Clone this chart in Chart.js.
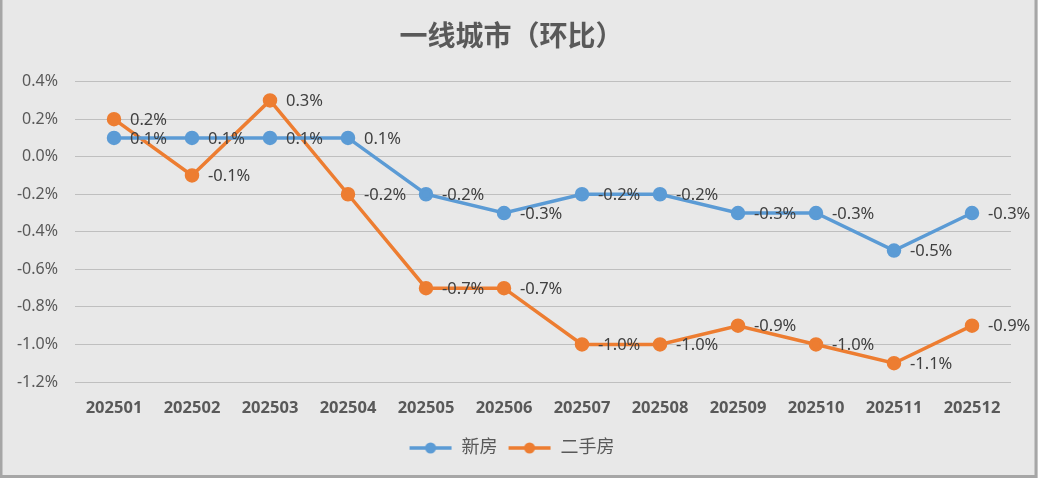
<!DOCTYPE html>
<html lang="zh">
<head>
<meta charset="UTF-8">
<title>一线城市（环比）</title>
<script src="https://cdn.jsdelivr.net/npm/chart.js"></script>
<style>
    html, body { margin: 0; padding: 0; background: #e8e8e8; }
    #wrap { width: 1038px; height: 478px; }
</style>
</head>
<body>
<div id="wrap"><canvas id="chart" width="1038" height="478"></canvas></div>
<script>
    var months = ["202501", "202502", "202503", "202504", "202505", "202506",
                  "202507", "202508", "202509", "202510", "202511", "202512"];
    var newHomes = [0.1, 0.1, 0.1, 0.1, -0.2, -0.3, -0.2, -0.2, -0.3, -0.3, -0.5, -0.3];
    var resale = [0.2, -0.1, 0.3, -0.2, -0.7, -0.7, -1.0, -1.0, -0.9, -1.0, -1.1, -0.9];
    var seriesNames = ["新房", "二手房"];
    var colors = ["#5b9bd5", "#ed7d31"];

    var FONT = "'Noto Sans', 'Noto Sans CJK SC', sans-serif";

    // little legend marker: line with a dot in the middle
    function marker(color) {
        var c = document.createElement("canvas");
        c.width = 44; c.height = 14;
        var g = c.getContext("2d");
        g.strokeStyle = color;
        g.lineWidth = 3.5;
        g.beginPath(); g.moveTo(1, 7); g.lineTo(43, 7); g.stroke();
        g.fillStyle = color;
        g.beginPath(); g.arc(22, 7, 5.5, 0, Math.PI * 2); g.fill();
        return c;
    }
    var markers = [marker(colors[0]), marker(colors[1])];

    var frame = {
        id: "frame",
        beforeDraw: function(chart) {
            var ctx = chart.ctx;
            ctx.save();
            ctx.fillStyle = "#e8e8e8";
            ctx.fillRect(0, 0, chart.width, chart.height);
            ctx.restore();
        },
        afterDraw: function(chart) {
            var ctx = chart.ctx;
            ctx.save();
            ctx.strokeStyle = "#a6a6a6";
            ctx.lineWidth = 3;
            ctx.beginPath();
            ctx.moveTo(1, 0);
            ctx.lineTo(1, chart.height - 1.5);
            ctx.lineTo(chart.width - 2, chart.height - 1.5);
            ctx.lineTo(chart.width - 2, 0);
            ctx.stroke();
            ctx.restore();
        }
    };

    var pointLabels = {
        id: "pointLabels",
        afterDatasetsDraw: function(chart) {
            var ctx = chart.ctx;
            ctx.save();
            ctx.font = "16.5px " + FONT;
            ctx.fillStyle = "#404040";
            ctx.textAlign = "left";
            ctx.textBaseline = "middle";
            chart.data.datasets.forEach(function(ds, i) {
                chart.getDatasetMeta(i).data.forEach(function(pt, j) {
                    ctx.fillText(ds.data[j].toFixed(1) + "%", pt.x + 16, pt.y + 1);
                });
            });
            ctx.restore();
        }
    };

    new Chart(document.getElementById("chart"), {
        type: "line",
        data: {
            labels: months,
            datasets: [
                { label: seriesNames[0], data: newHomes, borderColor: colors[0], backgroundColor: colors[0],
                  borderWidth: 3.5, pointRadius: 5.5, pointHoverRadius: 5.5, tension: 0 },
                { label: seriesNames[1], data: resale, borderColor: colors[1], backgroundColor: colors[1],
                  borderWidth: 3.5, pointRadius: 5.5, pointHoverRadius: 5.5, tension: 0 }
            ]
        },
        options: {
            responsive: false,
            animation: false,
            layout: { padding: { left: 12, right: 27, top: 0, bottom: 11 } },
            plugins: {
                title: {
                    display: true,
                    text: "一线城市（环比）",
                    color: "#595959",
                    font: { family: "'Noto Sans CJK SC', sans-serif", size: 28, weight: "bold", lineHeight: 1.2 },
                    padding: { top: 19, bottom: 29 }
                },
                legend: {
                    position: "bottom",
                    labels: {
                        usePointStyle: true,
                        pointStyleWidth: 44,
                        boxHeight: 14,
                        color: "#595959",
                        font: { family: FONT, size: 18 },
                        padding: 10,
                        generateLabels: function(chart) {
                            return chart.data.datasets.map(function(ds, i) {
                                return { text: ds.label, pointStyle: markers[i], fillStyle: colors[i],
                                         strokeStyle: colors[i], lineWidth: 0, datasetIndex: i, fontColor: "#595959" };
                            });
                        }
                    }
                },
                tooltip: { enabled: false }
            },
            scales: {
                x: {
                    offset: true,
                    grid: { display: false, drawTicks: false },
                    border: { display: false },
                    ticks: { color: "#595959", font: { family: FONT, size: 16.5, weight: "bold" }, padding: 16 },
                    afterFit: function(s) { s.height = 47; }
                },
                y: {
                    min: -1.2,
                    max: 0.4,
                    ticks: {
                        stepSize: 0.2,
                        color: "#595959",
                        font: { family: FONT, size: 16 },
                        padding: 17,
                        callback: function(v) { return v.toFixed(1) + "%"; }
                    },
                    grid: { color: "#bfbfbf", lineWidth: 1, drawTicks: false },
                    border: { display: false },
                    afterFit: function(s) { s.width = 63; }
                }
            }
        },
        plugins: [frame, pointLabels]
    });
</script>
</body>
</html>
